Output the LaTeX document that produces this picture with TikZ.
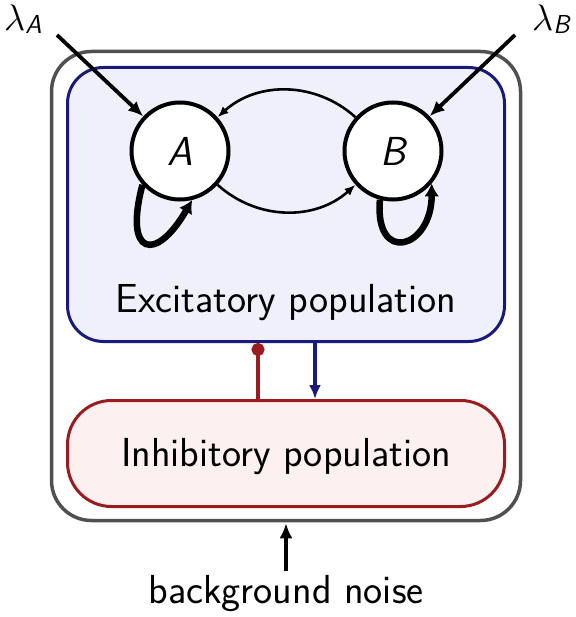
\RequirePackage{fix-cm}
\documentclass[tikz,border=0pt]{standalone}
\usetikzlibrary{arrows.meta}

\definecolor{excblue}{RGB}{26,26,125}
\definecolor{excfill}{RGB}{240,240,253}
\definecolor{inhred}{RGB}{155,27,30}
\definecolor{inhfill}{RGB}{253,240,240}
\definecolor{framegray}{RGB}{80,80,80}

\begin{document}
\begin{tikzpicture}[x=1pt,y=1pt,
    every node/.style={font=\fontsize{40.5}{46}\selectfont\sffamily},
    neuron/.style={circle,draw,line width=4pt,fill=white,minimum size=97pt,inner sep=0pt},
    popbox/.style={draw,line width=3pt,inner sep=0pt},
    rate/.style={anchor=base west,inner sep=0pt,font=\fontsize{37}{42}\selectfont\sffamily},
    input/.style={line width=3.8pt,-{Latex[length=15pt,width=13pt]}},
    cross/.style={line width=2.6pt,-{Latex[length=11pt,width=9pt]}},
    selfloop/.style={line width=6.5pt,-{Latex[length=13pt,width=15pt]}}]

    \useasboundingbox (0,0) rectangle (575,-617);

    % Network frame and populations
    \node[popbox,draw=framegray,line width=3.5pt,rounded corners=40pt,minimum width=469pt,minimum height=469pt]
      (net) at (286,-286) {};
    \node[popbox,draw=excblue,fill=excfill,rounded corners=36pt,minimum width=437pt,minimum height=274pt]
      (exc) at (286,-204.5) {};
    \node[popbox,draw=inhred,fill=inhfill,rounded corners=44pt,minimum width=437pt,minimum height=106pt]
      (inh) at (286,-453.5) {};

    \node[anchor=base] (exctext) at (286,-312) {Excitatory population};
    \node[anchor=base] (inhtext) at (286,-466) {Inhibitory population};

    % Selective pools
    \node[neuron] (A) at (180,-151) {\itshape A};
    \node[neuron] (B) at (393,-151) {\itshape B};

    % External inputs
    \node[rate] (lamA) at (4,-31)
      {$\lambda$\raisebox{-3pt}{\fontsize{26}{29}\selectfont\itshape A}};
    \node[rate] (lamB) at (532,-31)
      {$\lambda$\raisebox{-3pt}{\fontsize{26}{29}\selectfont\itshape B}};
    \coordinate (srcA) at (57,-35);
    \coordinate (srcB) at (515,-35);
    \draw[input] (srcA) -- (A);
    \draw[input] (srcB) -- (B);

    % Cross connections
    \draw[cross] (B) to[bend right=42] (A);
    \draw[cross] (A) to[bend right=42] (B);

    % Recurrent excitation
    \draw[selfloop] (A.222) to[out=255,in=240,looseness=3.6] (A.284);
    \draw[selfloop] (B.255) to[out=265,in=270,looseness=3.1] (B.320);

    % E <-> I
    \draw[line width=3.5pt,inhred,-{Circle[length=13pt]}]
      ([xshift=-28pt]inh.north) -- ([xshift=-28pt]exc.south);
    \draw[line width=3.5pt,excblue,-{Latex[length=14pt,width=12pt]}]
      ([xshift=29pt]exc.south) -- ([xshift=29pt]inh.north);

    % Background input
    \node[anchor=base] (noise) at (286,-603) {background noise};
    \draw[input,shorten >=1pt] (noise.north) -- (net.south);

  \end{tikzpicture}
\end{document}
